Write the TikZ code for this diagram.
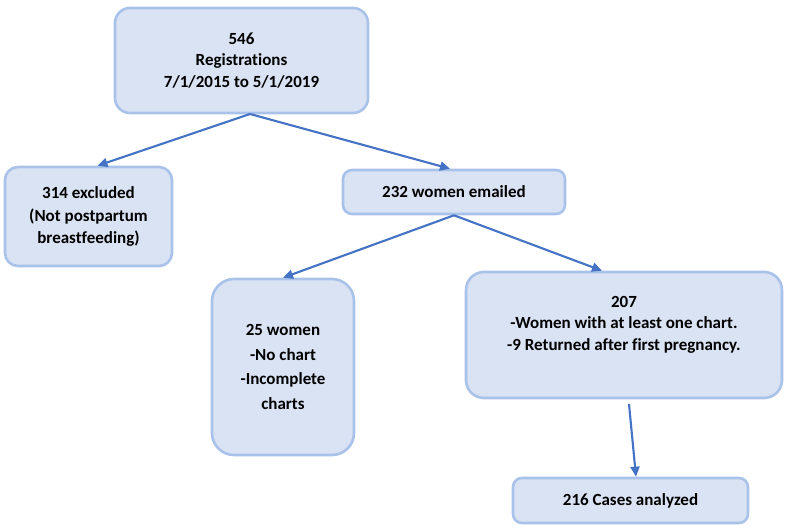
\documentclass[tikz,border=0pt]{standalone}
\usepackage{fontspec}
\setmainfont{Carlito}[Ligatures=NoCommon]
\usetikzlibrary{arrows.meta,positioning}
\definecolor{boxfill}{HTML}{DAE3F3}
\definecolor{boxline}{HTML}{A9C2EA}
\definecolor{arrcol}{HTML}{4472C4}
\begin{document}
\begin{tikzpicture}[x=1pt,y=-1pt,
  box/.style={draw=boxline, fill=boxfill, line width=2.6pt, rounded corners=13pt,
    align=center, inner sep=0pt, font=\fontsize{17}{21.5}\selectfont\bfseries},
  arr/.style={draw=arrcol, line width=2.1pt, -{Triangle[length=10pt,width=9pt]}}]
\useasboundingbox (0,0) rectangle (788,530);
\node[box, minimum width=253pt, minimum height=105pt, rounded corners=15pt] (b1) at (241.5,60.5) {546\\Registrations\\7/1/2015 to 5/1/2019};
\node[box, minimum width=167pt, minimum height=99pt, font=\fontsize{17}{22.5}\selectfont\bfseries] (b2) at (88.5,216.5) {314 excluded\\(Not postpartum\\breastfeeding)};
\node[box, minimum width=222pt, minimum height=44pt, rounded corners=9pt] (b3) at (454,192) {232 women emailed};
\node[box, minimum width=142pt, minimum height=176pt, rounded corners=22pt, font=\fontsize{17}{24.5}\selectfont\bfseries] (b4) at (283,367) {25 women\\-No chart\\-Incomplete\\charts};
\node[box, minimum width=316pt, minimum height=126pt, rounded corners=18pt] (b5) at (624,335) {207\\-Women with at least one chart.\\-9 Returned after first pregnancy.\\[2pt]};
\node[box, minimum width=235pt, minimum height=45pt, rounded corners=9pt] (b6) at (630.5,500.5) {216 Cases analyzed};
\coordinate (s1) at (250,114);
\coordinate (s5) at (629,404);
\draw[arr] (s1) -- ([xshift=9pt]b2.north);
\draw[arr] (s1) -- ([xshift=-4pt]b3.north);
\draw[arr] (b3.south) -- (b4.north);
\draw[arr] (b3.south) -- ([xshift=-22pt]b5.north);
\draw[arr] (s5) -- ([xshift=5.5pt]b6.north);
\end{tikzpicture}
\end{document}
